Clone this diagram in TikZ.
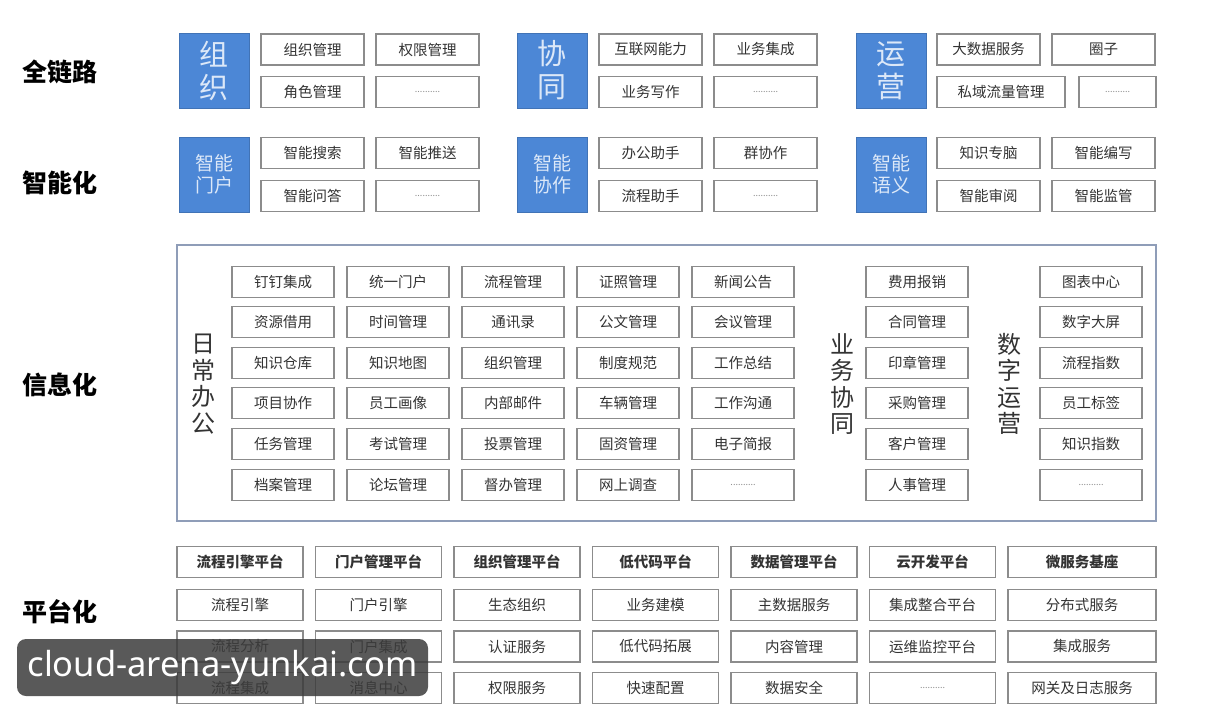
\documentclass[tikz,border=0pt]{standalone}
\usepackage{fontspec}
\setmainfont{Noto Sans CJK SC}
\newfontfamily\wmfont{Noto Sans}
\definecolor{topblue}{HTML}{4C87D6}
\definecolor{bluetext}{HTML}{DCE8F8}
\definecolor{boxgray}{HTML}{8C8C8C}
\definecolor{textgray}{HTML}{333333}
\definecolor{framegray}{HTML}{8F9DB8}
\definecolor{wmgray}{HTML}{3C3C3C}
\newcommand\moredots{{\color{boxgray}\fontsize{9}{10}\selectfont ..........}}
\tikzset{
	item/.style={draw=boxgray, line width=1.1pt, fill=white, minimum width=103pt, minimum height=31pt, inner sep=0pt, text=textgray, font=\fontsize{14.5}{16}\selectfont},
	bluebox/.style={fill=topblue, draw=topblue!85!black, line width=0.8pt, minimum width=70pt, minimum height=75pt, inner sep=0pt, text=bluetext, align=center},
	tier/.style={font=\fontsize{25}{28}\bfseries\selectfont, text=black},
	vlabel/.style={align=center, text=textgray, font=\fontsize{24}{26.5}\selectfont},
	plat/.style={item, minimum width=126pt},
}
\begin{document}
\begin{tikzpicture}[x=1pt,y=-1pt]
			\useasboundingbox (0,0) rectangle (1215,712);
			% tier labels
			\node[tier] (t1) at (60,72)  {全链路};
			\node[tier] (t2) at (60,183) {智能化};
			\node[tier] (t3) at (60,385) {信息化};
			\node[tier] (t4) at (60,612) {平台化};
			%
			% full chain
			\node[bluebox, font=\fontsize{29}{33}\selectfont] (org) at (214,70.5)   {组\\织};
			\node[bluebox, font=\fontsize{29}{33}\selectfont] (col) at (552,70.5)   {协\\同};
			\node[bluebox, font=\fontsize{29}{33}\selectfont] (ops) at (891,70.5)   {运\\营};
			\node[item] (org1) at (312.5,49.5) {组织管理};
			\node[item] (org2) at (427.5,49.5) {权限管理};
			\node[item] (org3) at (312.5,92)   {角色管理};
			\node[item] (org4) at (427.5,92)   {\moredots};
			\node[item] (col1) at (650.5,49.5) {互联网能力};
			\node[item] (col2) at (765.5,49.5) {业务集成};
			\node[item] (col3) at (650.5,92)   {业务写作};
			\node[item] (col4) at (765.5,92)   {\moredots};
			\node[item] (ops1) at (988.5,49.5)  {大数据服务};
			\node[item] (ops2) at (1103.5,49.5) {圈子};
			\node[item, minimum width=128pt] (ops3) at (1001,92) {私域流量管理};
			\node[item, minimum width=77pt]  (ops4) at (1117.5,92) {\moredots};
			%
			% smart
			\node[bluebox, font=\fontsize{19}{22}\selectfont] (sp) at (214,174.5) {智能\\门户};
			\node[bluebox, font=\fontsize{19}{22}\selectfont] (sc) at (552,174.5) {智能\\协作};
			\node[bluebox, font=\fontsize{19}{22}\selectfont] (ss) at (891,174.5) {智能\\语义};
			\node[item] (sp1) at (312.5,153) {智能搜索};
			\node[item] (sp2) at (427.5,153) {智能推送};
			\node[item] (sp3) at (312.5,196) {智能问答};
			\node[item] (sp4) at (427.5,196) {\moredots};
			\node[item] (sc1) at (650.5,153) {办公助手};
			\node[item] (sc2) at (765.5,153) {群协作};
			\node[item] (sc3) at (650.5,196) {流程助手};
			\node[item] (sc4) at (765.5,196) {\moredots};
			\node[item] (ss1) at (988.5,153)  {知识专脑};
			\node[item] (ss2) at (1103.5,153) {智能编写};
			\node[item] (ss3) at (988.5,196)  {智能审阅};
			\node[item] (ss4) at (1103.5,196) {智能监管};
			%
			% information
			\node[draw=framegray, line width=1.3pt, minimum width=979pt, minimum height=276pt, inner sep=0pt] (frame) at (666.5,383) {};
			\node[vlabel] (daily) at (203,384)  {日\\常\\办\\公};
			\node[vlabel] (biz)   at (842,384)  {业\\务\\协\\同};
			\node[vlabel] (dig)   at (1009,384) {数\\字\\运\\营};
			\def\daily {283/{钉钉集成,资源借用,知识仓库,项目协作,任务管理,档案管理}, 398/{统一门户,时间管理,知识地图,员工画像,考试管理,论坛管理}, 513/{流程管理,通讯录,组织管理,内部邮件,投票管理,督办管理}, 628/{证照管理,公文管理,制度规范,车辆管理,固资管理,网上调查}, 743/{新闻公告,会议管理,工作总结,工作沟通,电子简报,\moredots}, 917/{费用报销,合同管理,印章管理,采购管理,客户管理,人事管理}, 1091/{图表中心,数字大屏,流程指数,员工标签,知识指数,\moredots}}  % columns
			\foreach \x/\items in \daily
			{	\foreach \t [count=\r] in \items
				{	\node[item, minimum width=102pt] (d\x-\r) at (\x, 241+40.6*\r) {\t};
				}
			}
			%
			% platform
			\def\platform {240/流程引擎平台/{流程引擎,流程分析,流程集成}, 378.5/门户管理平台/{门户引擎,门户集成,消息中心}, 517/组织管理平台/{生态组织,认证服务,权限服务}, 655.5/低代码平台/{业务建模,低代码拓展,快速配置}, 794/数据管理平台/{主数据服务,内容管理,数据安全}, 932.5/云开发平台/{集成整合平台,运维监控平台,\moredots}}  % columns
			\foreach \x/\head/\items in \platform
			{	\node[plat, font=\fontsize{14.5}{16}\bfseries\selectfont] (p\x-0) at (\x,562) {\head};
				\foreach \t [count=\r] in \items
				{	\node[plat] (p\x-\r) at (\x, 563.5+41.5*\r) {\t};
				}
			}
			\node[plat, minimum width=148pt, font=\fontsize{14.5}{16}\bfseries\selectfont] (ms0) at (1082,562) {微服务基座};
			\node[plat, minimum width=148pt] (ms1) at (1082,605)   {分布式服务};
			\node[plat, minimum width=148pt] (ms2) at (1082,646.5) {集成服务};
			\node[plat, minimum width=148pt] (ms3) at (1082,688)   {网关及日志服务};
			%
			% watermark
			\node[fill=wmgray, fill opacity=0.85, text opacity=1, text=white, rounded corners=9pt, minimum width=411pt, minimum height=57pt, inner sep=0pt, font=\wmfont\fontsize{34.5}{38}\selectfont] (wm) at (222.5,667.5) {cloud-arena-yunkai.com};
		\end{tikzpicture}
\end{document}
